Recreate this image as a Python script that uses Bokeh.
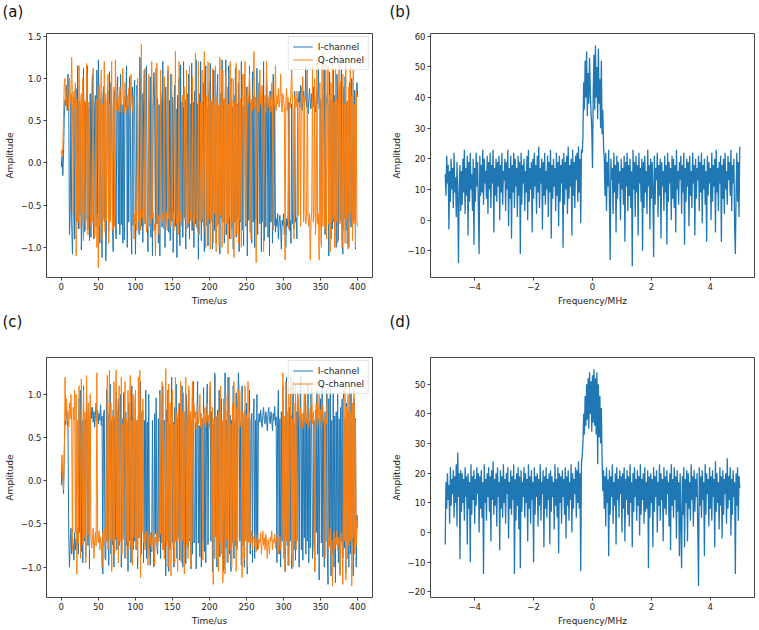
import numpy as np
from bokeh.plotting import figure
from bokeh.layouts import row, column
from bokeh.models import Range1d, FixedTicker
from bokeh.embed import file_html
from bokeh.resources import INLINE

# ---------------- data ----------------
t_us = np.arange(0, 401, 1)           # sample times (us)
freq_mhz = np.linspace(-5, 5, 401)    # frequency bins (MHz)

I_a = [
    -0.05, 0.08, -0.15, 0.1, 0.55, 0.75, 0.68, 0.92, 0.62, 1.05, 0.7, -0.85, -0.6, 0.82, -0.72, -1.08, -0.65, 0.78, -0.9, 0.66,
    0.88, -0.7, 1.15, -0.78, 0.74, -0.62, 0.7, -1.03, -0.75, 0.68, 1.12, -0.82, 0.72, -0.68, 0.95, 1.15, -0.78, 0.65, -0.92, 0.82,
    -0.88, 0.72, 1.05, -0.7, -0.9, 0.68, 0.8, -0.75, 1.1, -0.66, 1.22, 0.7, -0.95, 0.76, -0.62, -1.12, 0.75, 0.9, -0.7, 0.64,
    -1.16, -0.72, 0.71, 0.85, -0.8, 1.08, -0.66, 0.95, 0.64, -0.75, -1.05, 0.72, 0.86, -0.68, -0.9, 0.78, 1.02, -0.72, 0.68, -0.85,
    1.05, -0.73, 0.69, -0.95, 0.72, -0.91, 0.79, 0.66, 1.15, -1.0, 0.73, -0.7, 1.02, 0.68, -0.7, -1.08, 0.9, -0.74, 0.8, 0.98,
    -1.08, -0.62, 0.92, 0.7, -0.6, -0.85, 1.25, 0.7, -0.75, 0.82, -0.94, 0.66, 1.1, -0.72, 0.68, 1.15, -0.7, -1.05, 0.77, -0.66,
    1.02, -0.88, 0.7, -1.1, 0.75, 1.07, 0.63, -0.8, 1.12, -0.72, 0.76, -0.95, 0.69, -1.1, 0.86, 0.72, -0.76, 1.2, -0.65, 0.73,
    -1.0, 0.9, -0.71, 0.66, 1.1, -0.82, 0.74, -0.92, 1.05, -0.69, 0.78, -1.06, 0.7, 0.92, -0.75, 0.64, -1.12, 0.8, -0.7, 1.0,
    -0.98, 1.16, -0.7, 0.72, -0.88, 1.2, -0.65, 0.75, -1.02, 0.68, 0.82, -0.76, 1.05, -0.9, 0.7, -0.68, 1.18, -0.8, 0.72, -1.0,
    0.85, -0.72, 1.22, -0.76, 0.7, -1.14, 0.82, -0.68, 1.2, -0.92, 0.72, -0.7, 0.95, -1.05, 0.7, 1.15, -0.74, 0.66, -0.98, 0.85,
    -0.72, 1.18, -0.68, 0.73, -1.02, 0.7, 1.1, -0.8, 0.64, -0.95, 0.76, 1.05, -0.72, 0.68, -1.08, 0.82, -0.66, 1.22, -0.7, 0.75,
    -0.95, 0.7, 1.22, -0.85, 0.68, -0.72, 1.15, -0.9, 0.74, 1.0, -0.78, 0.66, -1.02, 0.8, -0.7, 1.12, -0.88, 0.7, -0.66, 0.95,
    -1.05, 0.72, -0.7, 1.2, -0.8, 0.68, -0.98, 1.05, 0.7, -0.75, 0.9, -1.1, 0.76, -0.68, 1.15, -0.82, 0.72, -0.95, 1.08, -0.7,
    0.8, -1.0, 0.7, -0.66, 1.12, -0.85, 0.68, 0.95, -0.72, 0.74, -1.05, 0.8, -0.7, 1.2, -0.92, 0.7, -0.76, 1.0, 0.66, -0.88,
    0.72, -1.1, 0.85, -0.7, 0.68, -0.95, 1.05, -0.74, 0.7, -0.82, -0.66, -0.75, -0.6, -0.9, -0.7, -0.62, -0.78, -1.02, -0.68, -0.74,
    -0.6, -0.85, -0.7, -1.0, -0.66, -0.75, -0.62, 0.72, -0.8, -0.68, -0.95, 0.7, -0.72, -0.6, -0.78, 0.85, -0.7, -0.65, -0.9, 0.74,
    0.72, 0.85, 0.65, 0.92, 0.7, 0.62, 0.76, 0.85, 0.68, 0.74, 1.15, 0.66, 0.8, 0.58, 0.74, 0.88, 0.7, 0.64, 0.82, 0.72,
    0.9, 0.66, 0.78, 0.6, 0.72, 0.85, 0.7, 1.12, 0.64, 0.76, 0.7, -0.96, 0.72, 0.8, 0.66, 1.1, -0.85, 0.66, 0.74, 0.82,
    0.68, -1.1, 1.08, 0.72, -0.9, 0.75, -0.78, 1.12, -0.7, 0.8, 0.66, -1.0, 1.05, 0.68, -0.92, 0.74, 0.9, -0.68, 1.1, -0.84,
    -1.08, 0.9, -0.66, 1.02, -0.8, 0.72, -0.96, 0.68, -1.0, 0.95, 0.7, -0.76, 1.0, -0.9, 0.72, -0.68, 0.86, -1.02, 0.74, 0.95,
    0.78,
]

Q_a = [
    0.15, 0.08, 0.18, 0.55, 0.95, 1.0, 0.78, 0.68, 0.92, 0.75, 0.62, 1.0, 0.72, 0.85, 1.25, 0.7, -0.6, 0.85, 0.66, 0.95,
    -1.1, 0.75, -0.55, -0.7, 1.15, -0.78, 0.7, 0.82, -0.6, 1.0, -0.92, 0.74, -0.65, -0.8, 1.18, 0.66, -0.85, 0.72, 0.65, -0.6,
    -0.75, -0.58, -0.7, 1.12, -0.62, -0.88, -0.7, 0.75, -1.0, -0.6, -1.24, 0.92, -0.75, 0.68, 1.1, -0.9, 0.7, -0.66, 1.2, -0.82,
    0.82, -0.68, 0.72, 1.05, -0.95, 0.7, -0.7, 0.78, 1.2, -0.8, 0.65, 0.9, -0.75, 1.22, 0.7, 0.62, 0.85, 0.74, 0.6, 0.9,
    0.72, 0.6, 0.85, 1.12, 0.7, 0.58, 0.95, 0.75, 0.62, 0.8, 0.68, 0.88, 0.55, 0.78, 1.05, 0.7, 0.62, 0.8, -0.9, -0.6,
    -0.72, -0.55, -0.8, 1.0, -0.62, -0.7, -0.58, -0.8, 1.4, -0.65, -0.55, -0.75, -0.68, 1.12, -0.6, -0.82, -0.7, -0.58, 1.05, -0.75,
    -0.62, -0.72, 1.2, -0.66, -0.58, -0.8, -0.72, -1.1, -0.6, 1.18, -0.7, -0.62, -0.85, -0.55, 1.1, -0.66, -0.7, -0.6, -0.78, 1.02,
    -0.62, -0.74, -0.58, -0.8, 1.15, -0.66, -0.6, -0.7, -0.75, 1.05, -0.66, -0.58, -0.8, -0.7, 1.32, -0.62, -0.72, -0.6, -0.85, 1.2,
    -0.7, -0.58, -0.75, 0.72, 0.8, 0.66, 0.9, -0.68, -0.62, 1.1, -0.78, -0.6, -0.72, 1.15, -0.66, -0.55, -0.8, 1.02, -0.7, -0.62,
    -0.75, 1.3, -0.66, -0.6, -0.82, 1.2, -0.85, -0.7, 0.72, -0.68, 1.1, -0.62, -0.75, 1.32, -0.7, -1.0, 0.8, -0.72, 1.2, -0.66,
    0.95, -1.02, 0.74, -0.7, 1.12, -0.95, 0.7, -0.6, 1.15, -1.05, 0.78, -0.75, 0.68, -0.98, 1.25, -0.62, 0.72, -1.0, 1.1, -0.68,
    0.76, -0.85, 1.05, -0.72, 0.9, -1.08, 0.7, -0.66, 1.2, -0.9, 0.75, -0.7, 1.0, -1.12, 0.72, -0.6, 1.18, -0.85, 0.66, -0.95,
    1.1, -0.68, 0.76, -1.0, 0.7, 1.05, -0.8, 0.66, 1.2, -0.72, 0.62, 0.9, 0.7, 0.8, 1.05, 0.68, -0.9, 0.75, 0.62, 0.82,
    1.32, 0.65, 0.78, -1.18, 0.72, 0.85, 0.6, 0.76, 1.1, 0.7, 0.68, 0.92, 0.62, -1.05, 0.74, 0.8, 0.6, 1.2, 0.7, 0.78,
    0.66, 0.85, 0.72, 0.6, 0.95, 0.7, -0.8, 0.76, 0.68, 1.15, 0.62, 0.8, 0.7, 0.88, 0.66, 0.74, 1.05, 0.7, 0.6, 0.82,
    0.75, 0.66, -1.15, 0.7, 0.88, 0.62, 0.78, -0.78, 0.72, 0.65, 0.9, 1.1, 0.7, 0.6, -0.9, 0.8, 0.72, 0.66, 0.85, 0.7,
    -0.62, 0.72, 0.66, -0.75, 0.9, 0.7, 1.02, -0.7, 0.78, -0.6, -0.72, -0.58, 1.1, -0.66, -0.75, -0.6, -1.15, -0.7, -0.58, 1.15,
    -0.7, -0.62, 1.0, -0.85, -0.66, 1.22, -0.72, -0.6, -1.15, 0.95, -0.68, -1.0, 1.3, -0.75, 1.2, -0.6, -0.78, 1.18, -0.9, 0.72,
    1.15, -0.72, 0.8, -1.05, 0.95, -0.7, 1.25, -0.66, 0.72, -1.0, 1.12, -0.7, 0.76, -0.95, 0.68, 1.28, -0.72, 0.96, -0.65, -1.0,
    1.05, -0.8, 0.7, -0.95, 1.2, -0.66, 0.74, -1.02, 0.9, -0.7, 1.15, -0.6, 0.8, -0.92, 1.1, -0.72, 0.7, -1.0, 0.85, -0.7,
    -0.75,
]

I_c = [
    -0.05, 0.2, 0.05, -0.15, 0.35, 0.7, 0.65, 0.85, 0.72, 0.6, -0.6, -1.0, -0.72, -0.55, -0.85, -0.65, -0.75, -0.92, -0.6, -0.8,
    -0.68, -0.75, -0.55, -0.85, 0.95, -0.6, 1.05, -0.82, 0.7, -0.95, 1.1, -0.7, 0.72, -0.88, 1.0, 0.68, -0.75, 0.8, -1.02, 0.7,
    0.85, 0.72, 0.85, 0.68, 0.8, 0.62, 0.76, 0.9, 0.7, 0.82, 0.66, 0.78, 0.7, 0.88, 0.64, 0.75, -1.08, 0.75, 0.82, -0.9,
    -0.92, 1.05, -0.7, 0.78, -0.98, 0.66, 1.12, -0.85, 0.7, -0.74, 0.82, -1.0, 0.72, -0.68, 1.02, -0.8, 0.7, 0.95, -0.75, 0.68,
    1.0, -1.0, 0.72, -0.68, 1.02, 0.65, -0.9, 0.8, -0.75, 0.68, -1.05, 0.9, -0.7, 0.74, -0.95, 1.1, 0.66, -0.8, 0.72, -0.7,
    0.95, -0.8, 0.7, -1.02, 0.75, -0.66, 0.72, 1.15, -0.85, 0.6, 0.82, -0.95, 0.7, -0.72, 1.05, -0.9, 0.68, -0.78, 1.0, -0.7,
    -0.98, -0.6, -0.82, 0.7, -0.7, -1.0, 0.78, -0.62, 0.96, -0.75, -0.85, 0.72, -0.66, 1.05, -0.9, 0.7, -0.72, 1.1, -0.8, 0.68,
    0.7, -1.1, 0.82, -0.7, 1.05, -1.05, 0.65, -0.8, 0.74, 1.2, -0.72, 0.68, -1.0, 0.85, -0.7, 1.12, -0.9, 0.72, -0.66, 0.9,
    -0.92, 0.72, -0.68, 1.1, -1.0, 0.7, -0.75, 0.8, -0.96, 1.0, 0.7, -0.78, 1.05, -0.7, 0.76, -1.02, 0.68, -0.85, 1.15, -0.72,
    -0.7, 0.68, -1.02, 0.75, 1.15, -0.72, 0.64, -0.88, 0.78, -1.0, 0.72, -0.7, 1.08, -0.82, 0.7, -0.95, 0.8, 1.12, -0.74, 0.66,
    0.72, 1.1, -0.7, 0.8, -1.05, 0.66, -0.9, 1.25, -0.65, 0.74, -1.0, 0.82, -0.72, 1.05, -0.88, 0.7, 0.95, -0.76, 0.68, -1.05,
    -1.0, 1.25, -0.78, 0.7, -0.95, 1.2, 0.62, -0.85, 0.76, -1.05, 0.7, -0.72, 1.1, -0.9, 0.68, -0.75, 1.02, -0.8, 0.74, 1.25,
    1.0, -0.7, 0.68, -0.98, 1.1, -0.75, 0.7, -1.0, 0.82, -0.68, 0.9, -1.08, 0.72, -0.7, 1.05, -0.85, 0.66, 0.78, -0.95, 0.7,
    0.95, -0.9, 0.7, -0.72, 1.0, -0.8, 0.66, 0.78, 0.68, 0.82, 0.7, 0.62, 0.76, 0.85, 0.7, 0.66, 0.8, 0.72, 0.58, 0.78,
    0.85, 0.7, 0.66, 0.8, 0.72, 0.58, 0.78, 0.7, 0.86, 0.64, 0.74, -0.95, 0.7, 1.05, -0.85, 0.72, -1.0, 0.8, -0.7, 1.1,
    -0.82, 0.72, -1.05, 0.68, 1.2, -0.75, 0.7, -0.98, 0.85, -0.7, 0.76, -1.02, 0.7, 1.15, -0.8, 0.66, -0.92, 0.8, -0.7, 1.0,
    0.75, -1.0, 0.68, 1.22, -0.8, 0.7, -0.92, 0.78, -0.66, 1.0, -0.85, 0.72, -0.7, 1.12, -0.95, 0.7, -0.78, 1.02, 0.66, -0.9,
    -0.72, 0.7, -1.05, 0.82, -0.6, 1.05, -0.85, 0.72, -1.15, 0.7, 0.95, -0.72, 1.1, -0.88, 0.7, -1.0, 0.8, -0.7, 1.05, -0.82,
    -1.2, 0.95, -0.75, 1.05, -1.1, 0.7, -0.85, 1.02, -1.0, 0.75, -1.18, 0.8, -0.7, 1.0, -0.95, 0.72, -1.08, 0.85, -0.7, 0.95,
    -0.9, 1.05, -0.78, 0.72, -1.08, 0.9, -0.7, 0.8, -1.0, 0.7, -0.85, 1.02, -0.72, 0.78, -1.1, 0.95, -0.68, 0.72, -1.0, -0.4,
    -0.5,
]

Q_c = [
    0.1, 0.3, 0.05, -0.1, 0.25, 1.2, 0.75, 0.95, 0.68, 0.8, 0.62, 0.9, 0.72, 1.0, 0.66, -0.8, 0.85, 0.7, 1.05, -0.6,
    1.0, -1.08, 0.7, -0.72, 1.1, 0.75, -0.9, 1.18, 0.6, -0.75, 1.05, -0.66, 0.8, -0.95, 1.22, 0.7, -0.62, 0.9, -0.8, 1.0,
    -0.62, -0.78, -0.68, -0.55, -0.9, -0.7, -0.6, -0.75, 1.25, -0.66, -0.72, -0.58, -0.8, -0.65, -0.72, -1.0, -0.6, -0.75, -0.68, -0.55,
    -0.72, -0.58, 1.22, -0.8, 0.72, 1.28, -0.68, 0.9, -1.05, 0.75, -0.7, 1.15, -0.85, 0.72, 1.28, -0.66, 0.8, -0.95, 1.1, -0.7,
    -0.7, 1.2, -0.85, 0.66, -0.62, 0.8, 1.15, -0.9, 0.72, -0.7, 1.05, -0.8, 0.68, 1.22, -0.75, 0.7, -0.98, 1.0, -0.66, 0.82,
    1.05, -0.78, 0.7, -0.88, 1.2, -0.65, 1.28, -1.12, 0.8, -0.6, 0.95, -0.72, -0.62, -0.8, -0.68, -0.58, -0.72, -0.98, -0.7, -0.6,
    -0.75, -0.62, -0.8, -0.68, -0.58, -0.72, -0.98, -0.65, -0.72, -0.6, -0.78, -0.66, -0.7, 1.0, -0.62, 0.75, 1.15, -0.8, 0.7, -0.9,
    -0.62, 1.3, -0.75, 0.68, -1.0, 1.12, -0.7, 0.9, -1.1, 0.72, 1.05, -0.8, 0.66, -0.95, 1.2, -0.7, 0.78, -1.05, 0.85, -0.68,
    -0.6, 1.15, -0.95, 0.8, -0.7, 1.02, -1.08, 0.66, 1.2, -0.75, 0.72, -0.9, 1.1, -0.68, 0.8, -1.0, 0.74, 1.15, -0.7, 0.9,
    0.72, 0.8, 0.6, 0.75, 0.88, 0.66, 0.7, 1.0, 0.62, 0.78, 0.7, -0.92, 0.78, 0.66, 0.85, 0.62, 0.74, 0.9, 0.68, 0.76,
    0.62, 1.15, 0.7, -0.7, 0.85, -1.2, 0.72, -0.65, 1.22, -0.9, 0.75, 0.66, -1.05, 0.8, -0.72, 1.1, -0.85, 0.7, -1.18, 0.95,
    0.75, -1.08, 1.0, -0.68, 0.8, -0.95, 0.7, 1.2, -0.8, 0.66, -1.0, 0.9, -0.75, 1.15, -0.7, 0.72, -1.05, 0.85, -0.66, 1.05,
    0.78, 0.62, 0.7, 1.05, -1.12, 0.8, 0.72, -0.9, 1.1, -0.7, 0.76, -1.0, 1.15, -0.72, 0.8, -0.66, -0.72, -0.58, -0.8, -0.65,
    -0.65, -0.75, -0.6, -0.82, -0.7, -0.62, -0.78, -0.68, -0.72, -0.6, -0.85, -0.7, -0.58, -0.75, -0.66, -0.8, -0.62, -0.72, -0.9, -0.68,
    -0.75, -0.85, -0.65, -0.7, -0.58, -0.8, -0.68, -0.72, -0.62, -0.78, -0.66, -0.7, -0.6, -0.85, -0.72, -0.64, -0.8, -0.7, -0.62, 1.25,
    -0.9, 0.75, -1.05, 1.15, -0.7, 0.8, -0.98, 1.08, -0.75, 0.7, 1.2, -0.85, 0.72, -1.0, 0.9, -0.7, 1.12, -0.8, 0.68, 1.05,
    0.95, 0.75, 0.62, 0.85, 0.7, 0.78, 0.6, 0.72, 1.05, 0.68, 0.8, 0.66, 0.9, 0.7, 0.62, 0.76, 0.85, 0.7, 1.1, 0.66,
    0.8, 0.66, -1.05, 0.74, 0.9, 0.7, 0.62, 0.76, 1.0, 0.7, 0.82, 0.6, 0.75, 0.88, 0.68, 0.72, -0.9, 0.8, 0.66, 1.0,
    -0.62, -0.78, -0.7, -0.55, -0.85, -0.68, -1.22, -0.72, -0.6, -0.8, -0.66, -0.74, -0.58, -0.8, -0.7, -0.65, -1.1, -0.72, -0.6, -0.78,
    -1.2, 0.95, -0.7, 1.1, -1.15, 0.85, -0.9, 1.0, -0.75, 1.12, -0.7, 0.8, -1.22, 0.9, -0.66, 1.05, -0.85, 0.7, -0.75, -0.45,
    -0.55,
]

spec_b = [
    15, 8, 21, 12, 18, -3, 16, 6, 20, 10, 17, 4, 22, 9, 14, 1, 19, 7, -14, 11,
    18, 3, 16, 5, 20, 9, 23, 2, 17, 8, 21, -5, 19, 6, 22, 10, 15, 3, 20, -8,
    17, 6, 22, 11, 19, 4, -11, 21, 8, 18, 9, 23, 5, 20, 12, 16, 7, 21, 2, 19,
    10, 22, 4, 18, 12, 23, -4, 17, 8, 20, 6, 19, 11, 21, 0, 18, 9, 22, 5, 16,
    13, 20, 3, 19, 10, 23, -2, 17, 7, 21, -6, 18, 9, 22, 4, 20, 11, 17, 1, 21,
    8, 19, -11, 22, 5, 18, 12, 20, 3, 16, 9, 21, 0, 23, 6, 17, 10, 19, -4, 20,
    7, 22, 11, 18, 2, 21, 9, 24, 4, 17, 12, 20, -3, 19, 8, 22, 5, 16, 10, 21,
    1, 19, 9, 23, -6, 18, 7, 20, 11, 17, 3, 22, 8, 19, -2, 21, 6, 18, 12, 20,
    -9, 22, 5, 19, 10, 21, 2, 24, 7, 18, 11, 20, -5, 23, 8, 19, 4, 21, 13, 22,
    6, 24, 9, 20, -1, 23, 22, 27, 45, 36, 52, 40, 55, 34, 48, 38, 53, 42, 35, 30,
    17,
    42, 54, 36, 57, 40, 50, 33, 56, 38, 46, 30, 52, 28, 36, 24, 20, 8, 22, 3, 19,
    11, 23, 6, -13, 20, 13, 17, 2, 22, 9, 18, -4, 21, 7, 19, 12, 16, 0, 20, 10,
    17, 5, 21, -7, 19, 11, 22, 3, 18, 8, 20, 4, 16, -15, 23, 10, 19, 1, 21, 9,
    18, -5, 22, 12, 17, 6, 20, -10, 19, 4, 21, 9, 16, 2, 23, 11, 18, -3, 20, 7,
    19, 10, -12, 21, 5, 17, 13, 22, 1, 18, 8, 20, -6, 19, 11, 16, 3, 21, 9, 18,
    -8, 22, 6, 19, 12, 17, 0, 21, 7, 20, 4, 18, -4, 23, 10, 16, 5, 19, 13, 21,
    2, 18, 9, 22, -8, 17, 6, 20, 11, 19, -2, 21, 8, 16, 4, 22, 12, 18, -5, 20,
    7, 17, 13, 21, 3, 19, 9, 22, -1, 18, 10, 20, 5, 16, -7, 21, 8, 19, 12, 17,
    0, 22, 6, 18, 11, 20, -4, 23, 9, 17, 3, 19, 12, 21, -7, 18, 7, 20, 2, 22,
    10, 16, 5, 21, 13, 19, 8, 23, 3, 18, 12, 20, -2, -11, 9, 22, 6, 19, 1, 24,
]

spec_d = [
    -4, 17, 8, 20, 11, 16, 3, 22, 9, 18, 13, 21, 5, 19, 10, 23, 2, 27, 12, 20,
    -9, 21, 7, 20, 10, 18, 4, 22, 12, 19, -4, 20, 8, 17, -10, 23, 6, 19, 11, 21,
    3, 18, 9, 22, 13, 20, 0, 19, 8, 21, 5, 17, -14, 23, 10, 18, 4, 20, 12, 22,
    7, 19, -3, 21, 11, 24, 6, 18, 9, 20, 2, 22, 12, 17, -6, 21, 8, 19, 5, 23,
    10, 18, 3, 20, 13, 22, -2, 17, 8, 21, 6, 19, 11, 23, -14, 18, 4, 20, 9, 22,
    1, 19, -12, 21, 7, 17, 12, 22, 5, 20, 10, 18, -3, 23, 8, 19, 3, 21, 11, 17,
    -10, 22, 6, 19, 12, 20, 2, 18, 9, 23, 4, 17, 13, 21, -5, 19, 8, 22, 5, 18,
    11, 20, -4, 21, 7, 19, 12, 17, 1, 23, 9, 18, 5, 22, -7, 20, 10, 19, 3, 21,
    12, 18, 6, 22, -2, 19, 9, 21, 4, 17, 11, 23, 0, 20, 8, 18, 13, 22, 5, 21,
    10, 24, 8, 20, -13, 23, 26, 30, 40, 33, 46, 36, 50, 38, 52, 35, 54, 40, 51, 34,
    53,
    37, 55, 36, 52, 33, 54, 23, 50, 32, 46, 30, 42, 25, 14, 21, 8, 19, 2, 22, 10,
    18, -8, 21, 6, 19, 12, 23, 3, 17, 9, 20, -4, 22, 11, 18, 5, 21, 13, 19, 0,
    20, 8, 22, -3, 18, 11, 21, 6, 19, 2, 23, 10, 17, -5, 20, 7, 22, 12, 18, 4,
    21, 9, 19, -1, 23, 6, 18, 11, 20, 3, 22, 7, 17, 8, 21, -12, 19, 5, 20, 10,
    18, -5, 22, 7, 19, 12, 21, 0, 17, 9, 23, 4, 20, 11, 18, -3, 22, 8, 19, 6,
    21, 13, 17, 2, 20, -6, 23, 9, 18, 5, 22, 11, 19, -2, 21, 7, 17, -8, 20, 3,
    -12, 19, 6, 22, -5, 18, 10, 21, -3, 20, 8, 17, 4, 23, 11, 19, 2, 21, 7, 18,
    12, 20, 0, -18, 22, 9, 19, 5, 21, 11, 17, -8, 23, 6, 20, 13, 18, 2, 22, 8,
    19, 4, 21, 12, 18, -5, 24, 7, 20, 10, 17, 1, 22, 9, 19, -2, 21, 6, 18, 13,
    20, 3, 25, 8, 19, 11, 22, -1, 18, 6, 21, 12, 17, -14, 20, 9, 22, 4, 19, 15,
]

time_ticks = [0, 50, 100, 150, 200, 250, 300, 350, 400]
amp_ticks_a = [-1.0, -0.5, 0.0, 0.5, 1.0, 1.5]
amp_ticks_c = [-1.0, -0.5, 0.0, 0.5, 1.0]
freq_ticks = [-4, -2, 0, 2, 4]
spec_ticks_b = [-10, 0, 10, 20, 30, 40, 50, 60]
spec_ticks_d = [-20, -10, 0, 10, 20, 30, 40, 50]

for name, arr in [("I_a", I_a), ("Q_a", Q_a), ("I_c", I_c), ("Q_c", Q_c),
                  ("spec_b", spec_b), ("spec_d", spec_d)]:
    if len(arr) != 401:
        raise ValueError(f"{name} has {len(arr)} values")

BLUE = "#1f77b4"
ORANGE = "#ff7f0e"
FONT = "DejaVu Sans"


def fmt(v, dec):
    return f"{v:.{dec}f}".replace("-", "\u2212")


def style(p, title, xlabel, xticks, xdec, yticks, ydec, toff, lh):
    # a blank second line lifts the panel letter away from the frame
    p.title.text = title + "\n "
    p.title.text_font = FONT
    p.title.text_font_size = "15px"
    p.title.text_line_height = lh
    p.title.standoff = 0
    p.title.text_font_style = "normal"
    p.title.text_color = "#111111"
    p.title.align = "left"
    p.title.offset = toff
    p.outline_line_color = "#444444"
    p.outline_line_width = 1
    p.xgrid.visible = False
    p.ygrid.visible = False
    for ax, ticks, dec, lab in [(p.xaxis[0], xticks, xdec, xlabel), (p.yaxis[0], yticks, ydec, "Amplitude")]:
        ax.ticker = FixedTicker(ticks=ticks)
        ax.major_label_overrides = {v: fmt(v, dec) for v in ticks}
        ax.axis_line_color = None
        ax.major_tick_line_color = "#444444"
        ax.major_tick_out = 3
        ax.major_tick_in = 0
        ax.minor_tick_line_color = None
        ax.major_label_text_font = FONT
        ax.major_label_text_font_size = "8.5px"
        ax.major_label_text_color = "#222222"
        ax.major_label_standoff = 2
        ax.axis_label = lab
        ax.axis_label_text_font = FONT
        ax.axis_label_text_font_size = "9px"
        ax.axis_label_text_font_style = "normal"
        ax.axis_label_text_color = "#222222"
        ax.axis_label_standoff = 3


def style_legend(p):
    lg = p.legend[0]
    lg.location = "top_right"
    lg.margin = 3
    lg.padding = 4
    lg.spacing = 2
    lg.glyph_width = 20
    lg.glyph_height = 11
    lg.label_height = 11
    lg.label_standoff = 5
    lg.label_text_font = FONT
    lg.label_text_font_size = "9px"
    lg.label_text_color = "#222222"
    lg.border_line_color = "#cccccc"
    lg.background_fill_alpha = 0.8


common = dict(output_backend="svg", toolbar_location=None, background_fill_color="white",
              border_fill_color="white")

# (a)
pa = figure(width=388, height=310, min_border_left=46, min_border_right=16,
            min_border_top=33, min_border_bottom=33,
            x_range=Range1d(-20, 420), y_range=Range1d(-1.356, 1.532), **common)
pa.line(t_us, I_a, color=BLUE, line_width=1, legend_label="I-channel")
pa.line(t_us, Q_a, color=ORANGE, line_width=1, legend_label="Q-channel")
style(pa, "(a)", "Time/us", time_ticks, 0, amp_ticks_a, 1, -44, 0.72)
style_legend(pa)

# (b)
pb = figure(width=370, height=310, min_border_left=41, min_border_right=4,
            min_border_top=33, min_border_bottom=33,
            x_range=Range1d(-5.5, 5.5), y_range=Range1d(-18.7, 60.9), **common)
pb.line(freq_mhz, spec_b, color=BLUE, line_width=1.3)
style(pb, "(b)", "Frequency/MHz", freq_ticks, 0, spec_ticks_b, 0, -41, 0.72)

# (c)
pc = figure(width=388, height=318, min_border_left=46, min_border_right=16,
            min_border_top=47, min_border_bottom=28,
            x_range=Range1d(-20, 420), y_range=Range1d(-1.352, 1.428), **common)
pc.line(t_us, I_c, color=BLUE, line_width=1, legend_label="I-channel")
pc.line(t_us, Q_c, color=ORANGE, line_width=1, legend_label="Q-channel")
style(pc, "(c)", "Time/us", time_ticks, 0, amp_ticks_c, 1, -44, 1.45)
style_legend(pc)

# (d)
pd_ = figure(width=370, height=318, min_border_left=41, min_border_right=4,
             min_border_top=47, min_border_bottom=28,
             x_range=Range1d(-5.5, 5.5), y_range=Range1d(-21.9, 59.0), **common)
pd_.line(freq_mhz, spec_d, color=BLUE, line_width=1.3)
style(pd_, "(d)", "Frequency/MHz", freq_ticks, 0, spec_ticks_d, 0, -41, 1.45)

layout = column(row(pa, pb), row(pc, pd_))

open("out.html", "w").write(file_html(layout, INLINE))
